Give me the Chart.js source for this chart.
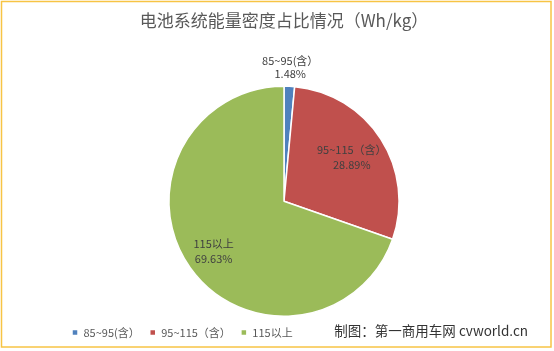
<!DOCTYPE html>
<html>
<head>
<meta charset="utf-8">
<script src="https://cdn.jsdelivr.net/npm/chart.js@4"></script>
<style>
    html, body { margin: 0; padding: 0; background: #fff; }
    #wrap { width: 554px; height: 351px; position: relative; }
</style>
</head>
<body>
<div id="wrap"><canvas id="energyChart"></canvas></div>
<script>
// Battery pack energy density share (Wh/kg)
const categories = ['85~95(含）', '95~115（含）', '115以上'];
const shares = [1.48, 28.89, 69.63];
const sliceColors = ['#4F81BD', '#C0504D', '#9BBB59'];
const titleText = '电池系统能量密度占比情况（Wh/kg）';
const sourceText = '制图：第一商用车网 cvworld.cn';

const cjkFont = '"Noto Sans CJK SC", "Liberation Sans", sans-serif';

// Frame + background + source note
const framePlugin = {
    id: 'frame',
    beforeDraw(chart) {
        const ctx = chart.ctx;
        ctx.save();
        ctx.fillStyle = '#fff';
        ctx.fillRect(0, 0, chart.width, chart.height);
        ctx.strokeStyle = '#F7C444';
        ctx.lineWidth = 1.5;
        ctx.strokeRect(1.5, 1.5, 549.5, 345.5);
        ctx.restore();
    },
    afterDraw(chart) {
        const ctx = chart.ctx;
        ctx.save();
        ctx.font = '13.5px ' + cjkFont;
        ctx.fillStyle = '#333';
        ctx.textAlign = 'right';
        ctx.textBaseline = 'middle';
        ctx.fillText(sourceText, 528, 331);
        ctx.restore();
    }
};

// Category + percent labels on each slice
const sliceLabels = {
    id: 'sliceLabels',
    afterDatasetsDraw(chart) {
        const ctx = chart.ctx;
        const meta = chart.getDatasetMeta(0);
        ctx.save();
        ctx.font = '11px ' + cjkFont;
        ctx.fillStyle = '#404040';
        ctx.textAlign = 'center';
        ctx.textBaseline = 'middle';
        meta.data.forEach(function(arc, i) {
            const p = arc.getProps(['x', 'y', 'startAngle', 'endAngle', 'outerRadius'], true);
            const mid = (p.startAngle + p.endAngle) / 2;
            let r, gap = 7.5;
            if (shares[i] < 5) {
                r = p.outerRadius + 19;
                gap = 6.5;
            } else if (shares[i] < 50) {
                r = p.outerRadius * 0.7;
            } else {
                r = p.outerRadius * 0.75;
            }
            const x = p.x + Math.cos(mid) * r;
            const y = p.y + Math.sin(mid) * r;
            ctx.fillText(categories[i], x, y - gap);
            ctx.fillText(shares[i].toFixed(2) + '%', x, y + gap);
        });
        ctx.restore();
    }
};

new Chart(document.getElementById('energyChart'), {
    type: 'pie',
    data: {
        labels: categories,
        datasets: [{
            data: shares,
            backgroundColor: sliceColors,
            borderColor: '#fff',
            borderWidth: 1.5
        }]
    },
    options: {
        responsive: true,
        maintainAspectRatio: false,
        animation: false,
        layout: { padding: { left: 62, right: 48, top: 0, bottom: 3 } },
        plugins: {
            title: {
                display: true,
                text: titleText,
                color: '#595959',
                font: { family: cjkFont, size: 17, weight: 'normal' },
                padding: { top: 10, bottom: 55 }
            },
            legend: {
                position: 'bottom',
                align: 'start',
                labels: {
                    boxWidth: 6,
                    boxHeight: 6,
                    padding: 10,
                    color: '#595959',
                    font: { family: cjkFont, size: 11 }
                }
            },
            tooltip: { enabled: false }
        }
    },
    plugins: [framePlugin, sliceLabels]
});
</script>
</body>
</html>
